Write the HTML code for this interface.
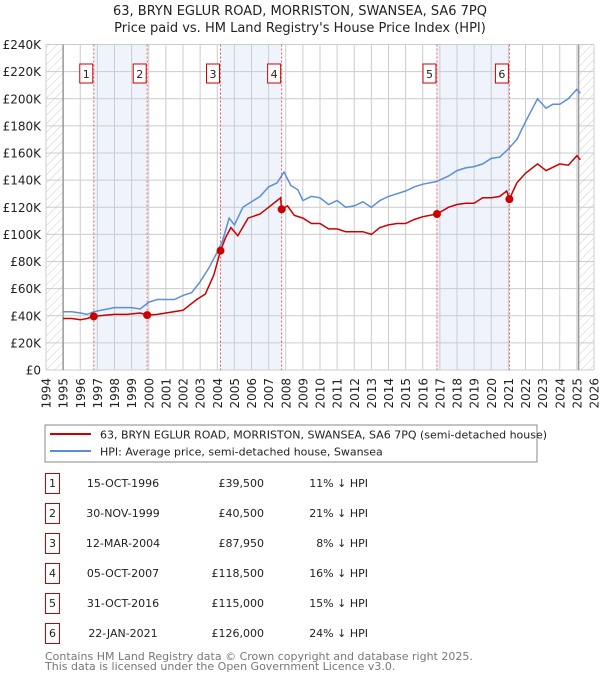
<!DOCTYPE html>
<html><head><meta charset="utf-8"><style>
body{margin:0;background:#fff;font-family:"DejaVu Sans","Liberation Sans",sans-serif;}
svg text{font-family:"DejaVu Sans","Liberation Sans",sans-serif;}
</style></head><body>
<svg id="chart" width="600" height="680" xmlns="http://www.w3.org/2000/svg">
<defs><pattern id="hatch" width="6" height="6" patternUnits="userSpaceOnUse" patternTransform="rotate(45)"><line x1="0" y1="0" x2="0" y2="6" stroke="#ccc" stroke-width="1"/></pattern></defs>
<text x="300" y="15" text-anchor="middle" font-size="13" fill="#222">63, BRYN EGLUR ROAD, MORRISTON, SWANSEA, SA6 7PQ</text>
<text x="300" y="32" text-anchor="middle" font-size="13" fill="#222">Price paid vs. HM Land Registry's House Price Index (HPI)</text>
<g id="plot"></g>
<rect x="45" y="425" width="492" height="37" fill="#fff" stroke="#888"/>
<line x1="50" y1="434" x2="91" y2="434" stroke="#cc0000" stroke-width="2"/>
<text x="100" y="438.5" font-size="11" fill="#222">63, BRYN EGLUR ROAD, MORRISTON, SWANSEA, SA6 7PQ (semi-detached house)</text>
<line x1="50" y1="451" x2="91" y2="451" stroke="#5b8fd6" stroke-width="2"/>
<text x="100" y="455.5" font-size="11" fill="#222">HPI: Average price, semi-detached house, Swansea</text>
<g id="table"></g>
<text x="45" y="660" font-size="11" fill="#777">Contains HM Land Registry data © Crown copyright and database right 2025.</text>
<text x="45" y="670" font-size="11" fill="#777">This data is licensed under the Open Government Licence v3.0.</text>
</svg>
<script>
const hpiYears=[1995,1995.5,1996,1996.4,1996.8,1997.2,1997.6,1998,1998.5,1999,1999.5,2000,2000.5,2001,2001.5,2002,2002.5,2003,2003.5,2004,2004.3,2004.7,2005,2005.5,2006,2006.5,2007,2007.5,2007.9,2008.3,2008.7,2009,2009.5,2010,2010.5,2011,2011.5,2012,2012.5,2013,2013.5,2014,2014.5,2015,2015.5,2016,2016.8,2017.5,2018,2018.5,2019,2019.5,2020,2020.5,2021,2021.5,2022,2022.7,2023.2,2023.6,2024,2024.5,2025,2025.2];
const hpiValues=[43,43,42,41,43,44,45,46,46,46,45,50,52,52,52,55,57,65,75,87,95,112,107,120,124,128,135,138,146,136,133,125,128,127,122,125,120,121,124,120,125,128,130,132,135,137,139,143,147,149,150,152,156,157,163,170,183,200,193,196,196,200,207,204];
const ppYears=[1995,1995.5,1996,1996.4,1996.79,1997.5,1998,1998.7,1999.5,1999.91,2000.5,2001,2002,2002.8,2003.3,2003.8,2004.19,2004.5,2004.8,2005.2,2005.8,2006.5,2007,2007.5,2007.7,2007.76,2008.1,2008.5,2009,2009.5,2010,2010.5,2011,2011.5,2012,2012.5,2013,2013.5,2014,2014.5,2015,2015.5,2016,2016.83,2017.5,2018,2018.5,2019,2019.5,2020,2020.5,2020.9,2021.06,2021.5,2022,2022.7,2023.2,2024,2024.5,2025,2025.2];
const ppValues=[38,38,37,38,39.5,40.5,41,41,42,40.5,41,42,44,52,56,70,87.95,98,105,99,112,115,120,125,127,118.5,121,114,112,108,108,104,104,102,102,102,100,105,107,108,108,111,113,115,120,122,123,123,127,127,128,132,126,138,145,152,147,152,151,158,155];
const saleLabels=["1","2","3","4","5","6"];
const saleYears=[1996.79,1999.91,2004.19,2007.76,2016.83,2021.06];
const salePrices=[39.5,40.5,87.95,118.5,115,126];
const saleDates=["15-OCT-1996","30-NOV-1999","12-MAR-2004","05-OCT-2007","31-OCT-2016","22-JAN-2021"];
const salePriceText=["£39,500","£40,500","£87,950","£118,500","£115,000","£126,000"];
const saleHpiText=["11% ↓ HPI","21% ↓ HPI","8% ↓ HPI","16% ↓ HPI","15% ↓ HPI","24% ↓ HPI"];
const yTicks=[0,20,40,60,80,100,120,140,160,180,200,220,240];
const yTickLabels=["£0","£20K","£40K","£60K","£80K","£100K","£120K","£140K","£160K","£180K","£200K","£220K","£240K"];
const xStart=1994,xEnd=2026,dataStart=1995,dataEnd=2025.1;

const NS="http://www.w3.org/2000/svg";
const L=46,R=594,T=44.5,B=370;
const X=y=>L+(y-xStart)/(xEnd-xStart)*(R-L);
const Y=v=>B-v/240*(B-T);
function mk(tag,attrs,parent){const e=document.createElementNS(NS,tag);for(const k in attrs)e.setAttribute(k,attrs[k]);parent.appendChild(e);return e;}
const g=document.getElementById('plot');
let e;
for(let i=0;i<saleYears.length;i+=2){
 e=mk('rect',{x:X(saleYears[i]),y:T,width:X(saleYears[i+1])-X(saleYears[i]),height:B-T,fill:'#eef3fc'},g);
 
 
}
e=mk('rect',{x:L,y:T,width:X(dataStart)-L,height:B-T,fill:'url(#hatch)'},g);


e=mk('rect',{x:X(dataEnd),y:T,width:R-X(dataEnd),height:B-T,fill:'url(#hatch)'},g);


for(let i=0;i<yTicks.length;i++){
 e=mk('line',{x1:L,x2:R,y1:Y(yTicks[i]),y2:Y(yTicks[i]),stroke:'#ccc','stroke-width':1},g);
 
 
 e=mk('text',{x:L-5,y:Y(yTicks[i])+4.5,'text-anchor':'end','font-size':12,fill:'#222'},g);
 e.textContent=yTickLabels[i];
 
 
}
for(let yr=xStart;yr<=xEnd;yr++){
 e=mk('line',{x1:X(yr),x2:X(yr),y1:T,y2:B,stroke:'#ccc','stroke-width':1},g);
 
 
 const tx=X(yr)+4.5,ty=378;
 e=mk('text',{x:tx,y:ty,'text-anchor':'end','font-size':12,fill:'#222',transform:'rotate(-90 '+tx+' '+ty+')'},g);
 e.textContent=yr;
 
 
}
e=mk('line',{x1:X(dataStart),x2:X(dataStart),y1:T,y2:B,stroke:'#999','stroke-width':1.5},g);


e=mk('line',{x1:X(dataEnd),x2:X(dataEnd),y1:T,y2:B,stroke:'#999','stroke-width':1.5},g);


for(let i=0;i<saleYears.length;i++){
 e=mk('line',{x1:X(saleYears[i]),x2:X(saleYears[i]),y1:T,y2:B,stroke:'#e06060','stroke-width':1,'stroke-dasharray':'2,2'},g);
 
 
}
function path(xs,vs){return xs.map((x,i)=>(i?'L':'M')+X(x).toFixed(1)+','+Y(vs[i]).toFixed(1)).join('');}
e=mk('path',{d:path(hpiYears,hpiValues),fill:'none',stroke:'#5b8fd6','stroke-width':1.5},g);


e=mk('path',{d:path(ppYears,ppValues),fill:'none',stroke:'#cc0000','stroke-width':1.5},g);


for(let i=0;i<saleYears.length;i++){
 e=mk('circle',{cx:X(saleYears[i]),cy:Y(salePrices[i]),r:4,fill:'#cc0000'},g);
 
 
 const bx=X(saleYears[i])-14;
 e=mk('rect',{x:bx,y:64,width:13,height:19,fill:'#fff',stroke:'#cc0000','stroke-width':1},g);
 
 
 e=mk('text',{x:bx+6.5,y:78,'text-anchor':'middle','font-size':11,fill:'#222'},g);
 e.textContent=saleLabels[i];
 
 
}
const t=document.getElementById('table');
for(let i=0;i<saleLabels.length;i++){
 const cy=483+i*30;
 e=mk('rect',{x:45.5,y:cy-9.5,width:14,height:20,fill:'#fff',stroke:'#cc0000','stroke-width':1},t);
 
 
 e=mk('text',{x:52.5,y:cy+4,'text-anchor':'middle','font-size':11,fill:'#222'},t);
 e.textContent=saleLabels[i];
 
 
 e=mk('text',{x:123,y:cy+4,'text-anchor':'middle','font-size':11,fill:'#222'},t);
 e.textContent=saleDates[i];
 
 
 e=mk('text',{x:264,y:cy+4,'text-anchor':'end','font-size':11,fill:'#222'},t);
 e.textContent=salePriceText[i];
 
 
 e=mk('text',{x:368,y:cy+4,'text-anchor':'end','font-size':11,fill:'#222'},t);
 e.textContent=saleHpiText[i];
 
 
}
</script>
</body></html>
